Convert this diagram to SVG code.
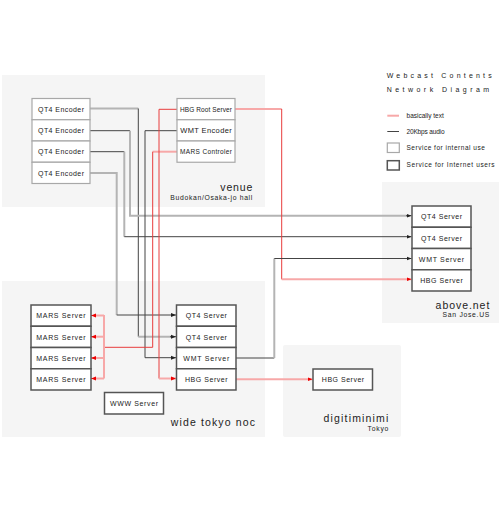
<svg xmlns="http://www.w3.org/2000/svg" width="500" height="528" viewBox="0 0 500 528">
<style>
text{font-family:"Liberation Sans","DejaVu Sans",Arial,sans-serif;fill:#222}
.lbl{font-size:7px;text-anchor:middle}
.site{font-size:10.5px;text-anchor:end}
.sub{font-size:6.8px;text-anchor:end}
.leg{font-size:6.5px}
.ttl{font-size:7px}
.bg{fill:#f5f5f5}
.int{fill:#fff;stroke:#a8a8a8;stroke-width:1.2}
.ext{fill:#fff;stroke:#555;stroke-width:1.5}
.gk{fill:none;stroke:#b4b4b4;stroke-width:2}
.dk{fill:none;stroke:#444;stroke-width:1}
.rd{fill:none;stroke:#e83c3c;stroke-width:1}
.lr{fill:none;stroke:#f7a8a8;stroke-width:2}
</style>
<defs>
<marker id="ad" markerUnits="userSpaceOnUse" markerWidth="6" markerHeight="6" refX="5" refY="3" orient="auto"><path d="M0,1 L5,3 L0,5 Z" fill="#222"/></marker>
<marker id="ar" markerUnits="userSpaceOnUse" markerWidth="6" markerHeight="6" refX="5" refY="3" orient="auto"><path d="M0,1 L5,3 L0,5 Z" fill="#e00"/></marker>
</defs>
<rect width="500" height="528" fill="#fff"/>
<g id="regions">
<rect class="bg" x="2" y="75" width="263" height="132"/>
<rect class="bg" x="382" y="182" width="117" height="141"/>
<rect class="bg" x="2" y="281" width="263" height="156"/>
<rect class="bg" x="283" y="345" width="118" height="92" rx="2"/>
<text class="site" x="252.3" y="191" textLength="32">venue</text>
<text class="sub" x="252.3" y="200" textLength="82">Budokan/Osaka-jo hall</text>
<text class="site" x="489.3" y="308.7" textLength="53.7">above.net</text>
<text class="sub" x="489.3" y="317.3" textLength="46.7">San Jose.US</text>
<text class="site" x="255" y="425.7" textLength="84.3">wide tokyo noc</text>
<text class="site" x="388.3" y="421.7" textLength="64.7">digitiminimi</text>
<text class="sub" x="388.3" y="430.7" textLength="20.7">Tokyo</text>
</g>
<g id="connectors">
<path class="gk" d="M90,108.5 H138.3"/>
<path class="dk" d="M138.3,108.5 V336.7"/>
<path class="gk" d="M138.3,336.7 H171" />
<path class="dk" d="M170,336.7 H176" marker-end="url(#ad)"/>
<path class="dk" d="M90,130.7 H130"/>
<path class="gk" d="M130,130.7 V215.7 H407"/>
<path class="dk" d="M406,215.7 H411.5" marker-end="url(#ad)"/>
<path class="dk" d="M90,151.7 H124.3"/>
<path class="gk" d="M124.3,151.7 V236.7"/>
<path class="dk" d="M124.3,236.7 H411.5" marker-end="url(#ad)"/>
<path class="gk" d="M90,173 H116.7 V315"/>
<path class="dk" d="M116.7,315 H176" marker-end="url(#ad)"/>
<path class="dk" d="M177,130.7 H145 V357.7 H176" marker-end="url(#ad)"/>
<path class="lr" d="M177,151.7 H152.7"/>
<path class="rd" d="M152.7,151.7 V347.3 H104"/>
<path class="lr" d="M104,315 V378.5"/>
<path class="lr" d="M104,315.5 H94"/>
<path class="lr" d="M104,336.7 H94"/>
<path class="lr" d="M104,358 H94"/>
<path class="lr" d="M104,378.5 H94"/>
<path class="rd" d="M95,315.5 H91" marker-end="url(#ar)"/>
<path class="rd" d="M95,336.7 H91" marker-end="url(#ar)"/>
<path class="rd" d="M95,358 H91" marker-end="url(#ar)"/>
<path class="rd" d="M95,378.5 H91" marker-end="url(#ar)"/>
<path class="rd" d="M177,109.3 H159 V378.5"/>
<path class="lr" d="M159,378.5 H176" marker-end="url(#ar)"/>
<path class="lr" d="M235,109 H281.7"/>
<path class="rd" d="M281.7,109 V279.3"/>
<path class="lr" d="M281.7,279.3 H411.5" marker-end="url(#ar)"/>
<path class="dk" d="M236,358 H274.3"/>
<path class="gk" d="M274.3,358 V258.5"/>
<path class="dk" d="M274.3,258.5 H411.5" marker-end="url(#ad)"/>
<path class="lr" d="M236,379.3 H312.5" marker-end="url(#ar)"/>
</g>
<g id="enc1"><rect class="int" x="32" y="98.5" width="58" height="21.25"/><text class="lbl" x="61" y="111.9" textLength="46">QT4 Encoder</text></g>
<g id="enc2"><rect class="int" x="32" y="119.75" width="58" height="21.25"/><text class="lbl" x="61" y="133.1" textLength="46">QT4 Encoder</text></g>
<g id="enc3"><rect class="int" x="32" y="141" width="58" height="21.25"/><text class="lbl" x="61" y="154.4" textLength="46">QT4 Encoder</text></g>
<g id="enc4"><rect class="int" x="32" y="162.25" width="58" height="21.25"/><text class="lbl" x="61" y="175.6" textLength="46">QT4 Encoder</text></g>
<g id="hbgroot"><rect class="int" x="177" y="98.5" width="58" height="21.25"/><text class="lbl" x="206" y="111.9" textLength="52" style="font-size:6.5px">HBG Root Server</text></g>
<g id="wmtenc"><rect class="int" x="177" y="119.75" width="58" height="21.25"/><text class="lbl" x="206" y="133.3" textLength="51.4" style="font-size:7.5px">WMT Encoder</text></g>
<g id="marsctl"><rect class="int" x="177" y="141" width="58" height="21.25"/><text class="lbl" x="206" y="154.4" textLength="52" style="font-size:6.5px">MARS Controler</text></g>
<g id="aqt1"><rect class="ext" x="412" y="206" width="59" height="21.25"/><text class="lbl" x="441.5" y="219.2" textLength="41">QT4 Server</text></g>
<g id="aqt2"><rect class="ext" x="412" y="227.25" width="59" height="21.25"/><text class="lbl" x="441.5" y="240.5" textLength="41">QT4 Server</text></g>
<g id="awmt"><rect class="ext" x="412" y="248.5" width="59" height="21.25"/><text class="lbl" x="441.5" y="261.7" textLength="45.3">WMT Server</text></g>
<g id="ahbg"><rect class="ext" x="412" y="269.75" width="59" height="21.25"/><text class="lbl" x="441.5" y="283" textLength="42.7">HBG Server</text></g>
<g id="mars1"><rect class="ext" x="31" y="305" width="60" height="21.25"/><text class="lbl" x="61" y="318.2" textLength="49.3">MARS Server</text></g>
<g id="mars2"><rect class="ext" x="31" y="326.25" width="60" height="21.25"/><text class="lbl" x="61" y="339.5" textLength="49.3">MARS Server</text></g>
<g id="mars3"><rect class="ext" x="31" y="347.5" width="60" height="21.25"/><text class="lbl" x="61" y="360.7" textLength="49.3">MARS Server</text></g>
<g id="mars4"><rect class="ext" x="31" y="368.75" width="60" height="21.25"/><text class="lbl" x="61" y="382" textLength="49.3">MARS Server</text></g>
<g id="wqt1"><rect class="ext" x="176.5" y="305" width="59.5" height="21.25"/><text class="lbl" x="206.3" y="318.2" textLength="41.3">QT4 Server</text></g>
<g id="wqt2"><rect class="ext" x="176.5" y="326.25" width="59.5" height="21.25"/><text class="lbl" x="206.3" y="339.5" textLength="41.3">QT4 Server</text></g>
<g id="wwmt"><rect class="ext" x="176.5" y="347.5" width="59.5" height="21.25"/><text class="lbl" x="206.3" y="360.7" textLength="46">WMT Server</text></g>
<g id="whbg"><rect class="ext" x="176.5" y="368.75" width="59.5" height="21.25"/><text class="lbl" x="206.3" y="382" textLength="42.7">HBG Server</text></g>
<g id="www"><rect class="ext" x="104.5" y="392.5" width="59" height="21.5"/><text class="lbl" x="134" y="405.8" textLength="48">WWW Server</text></g>
<g id="dhbg"><rect class="ext" x="313" y="369" width="59.5" height="21"/><text class="lbl" x="343" y="382.2" textLength="42.3">HBG Server</text></g>
<g id="legend">
<text class="ttl" x="386.7" y="78" textLength="105">Webcast Contents</text>
<text class="ttl" x="386.7" y="92" textLength="102.5">Network Diagram</text>
<path class="lr" d="M387.3,115.7 H399"/>
<path class="dk" d="M387.3,131.5 H399"/>
<rect class="int" x="387.3" y="143" width="12" height="9.5"/>
<rect class="ext" x="387.3" y="160.7" width="12" height="9.3"/>
<text class="leg" x="406.5" y="118" textLength="37.3">basically text</text>
<text class="leg" x="406.5" y="133.7" textLength="38">20Kbps audio</text>
<text class="leg" x="406.5" y="149.5" textLength="78.3">Service for internal use</text>
<text class="leg" x="406.5" y="167" textLength="88">Service for Internet users</text>
</g>
</svg>
